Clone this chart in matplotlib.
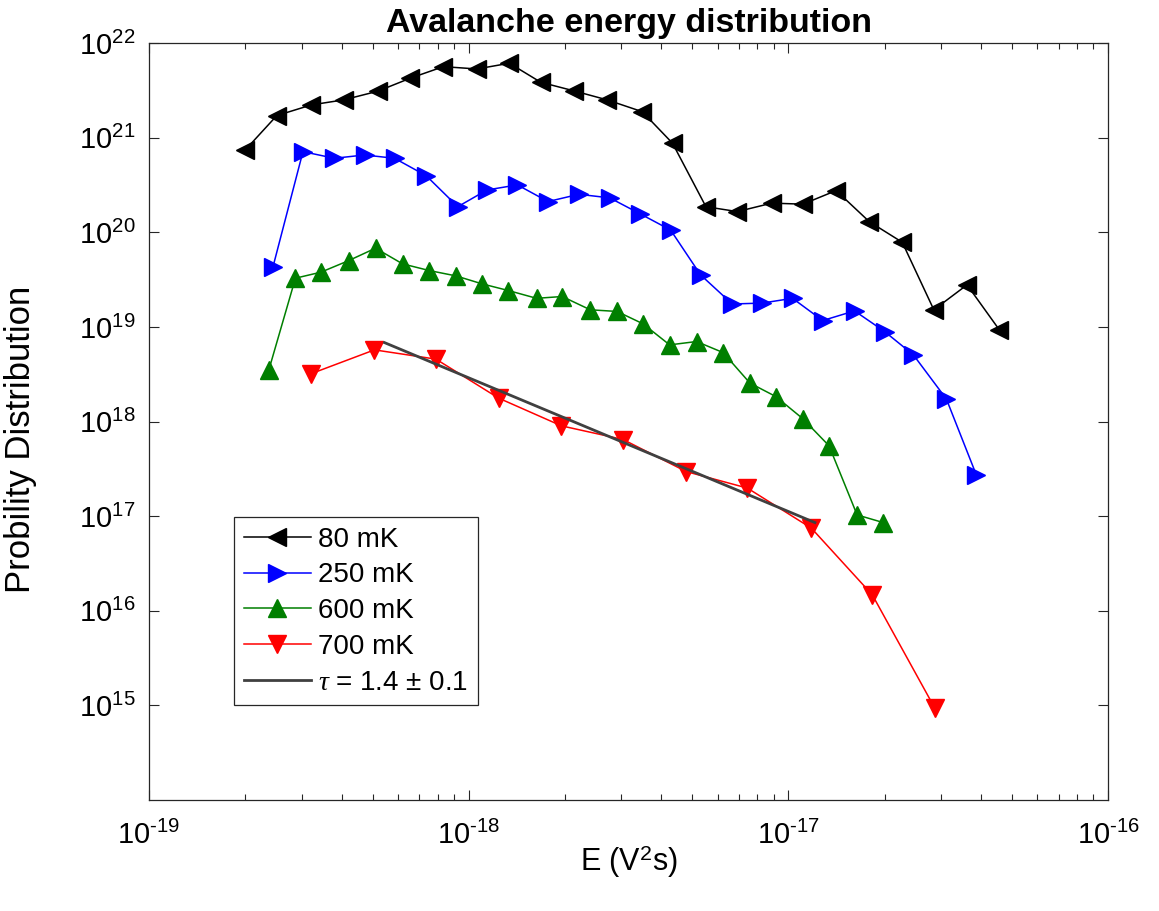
import matplotlib
matplotlib.use("Agg")
import matplotlib.pyplot as plt
import numpy as np
from matplotlib.ticker import LogLocator, NullLocator, FuncFormatter

plt.rcParams['font.family'] = ['Liberation Sans', 'DejaVu Sans']
plt.rcParams['mathtext.fontset'] = 'custom'
plt.rcParams['mathtext.rm'] = 'Liberation Sans'
plt.rcParams['mathtext.it'] = 'Liberation Serif:italic'

# 80 mK
x80 = [2.00e-19, 2.51e-19, 3.22e-19, 4.06e-19, 5.19e-19, 6.56e-19, 8.33e-19, 1.06e-18,
       1.34e-18, 1.68e-18, 2.14e-18, 2.71e-18, 3.49e-18, 4.34e-18, 5.52e-18, 6.92e-18,
       8.87e-18, 1.11e-17, 1.41e-17, 1.79e-17, 2.27e-17, 2.85e-17, 3.62e-17, 4.57e-17]
y80 = [7.45e20, 1.72e21, 2.23e21, 2.52e21, 3.11e21, 4.27e21, 5.66e21, 5.35e21,
       6.15e21, 3.87e21, 3.13e21, 2.52e21, 1.89e21, 8.77e20, 1.87e20, 1.66e20,
       2.04e20, 1.99e20, 2.77e20, 1.30e20, 7.87e19, 1.52e19, 2.79e19, 9.31e18]

# 250 mK
x250 = [2.44e-19, 3.03e-19, 3.80e-19, 4.72e-19, 5.86e-19, 7.36e-19, 9.24e-19, 1.14e-18,
        1.42e-18, 1.77e-18, 2.21e-18, 2.76e-18, 3.44e-18, 4.28e-18, 5.31e-18, 6.67e-18,
        8.28e-18, 1.03e-17, 1.28e-17, 1.61e-17, 2.00e-17, 2.46e-17, 3.12e-17, 3.87e-17]
y250 = [4.29e19, 7.15e20, 6.08e20, 6.59e20, 6.08e20, 3.98e20, 1.87e20, 2.81e20,
        3.18e20, 2.12e20, 2.53e20, 2.32e20, 1.57e20, 1.06e20, 3.56e19, 1.75e19,
        1.79e19, 2.01e19, 1.17e19, 1.48e19, 8.94e18, 5.07e18, 1.73e18, 2.73e17]

# 600 mK
x600 = [2.37e-19, 2.87e-19, 3.45e-19, 4.21e-19, 5.11e-19, 6.21e-19, 7.53e-19, 9.12e-19,
        1.10e-18, 1.33e-18, 1.63e-18, 1.96e-18, 2.40e-18, 2.91e-18, 3.51e-18, 4.25e-18,
        5.16e-18, 6.25e-18, 7.58e-18, 9.13e-18, 1.11e-17, 1.34e-17, 1.64e-17, 1.98e-17]
y600 = [3.52e18, 3.28e19, 3.80e19, 5.03e19, 6.81e19, 4.65e19, 3.95e19, 3.47e19,
        2.86e19, 2.43e19, 2.01e19, 2.10e19, 1.52e19, 1.46e19, 1.08e19, 6.47e18,
        7.02e18, 5.36e18, 2.55e18, 1.84e18, 1.07e18, 5.54e17, 1.03e17, 8.55e16]

# 700 mK
x700 = [3.20e-19, 5.07e-19, 7.90e-19, 1.24e-18, 1.95e-18, 3.04e-18, 4.79e-18, 7.44e-18,
        1.18e-17, 1.83e-17, 2.87e-17]
y700 = [3.19e18, 5.73e18, 4.57e18, 1.77e18, 9.01e17, 6.46e17, 2.96e17, 1.98e17,
        7.46e16, 1.47e16, 9.33e14]

# power-law fit, tau = 1.4
fit_x = [5.45e-19, 1.21e-17]
fit_y = [6.84e18, 8.55e16]

fig = plt.figure(figsize=(11.59, 9.11), dpi=100)
ax = fig.add_axes([0.1286, 0.122, 0.8275, 0.8305])

ms = 13
ax.plot(x80, y80, '-', color='black', lw=1.1, marker='<', ms=ms, label='80 mK')
ax.plot(x250, y250, '-', color='blue', lw=1.1, marker='>', ms=ms, label='250 mK')
ax.plot(x600, y600, '-', color='#007f00', lw=1.1, marker='^', ms=ms, label='600 mK')
ax.plot(x700, y700, '-', color='red', lw=1.1, marker='v', ms=ms, label='700 mK')
ax.plot(fit_x, fit_y, '-', color='#404040', lw=2, label=r'$\tau$ = 1.4 ± 0.1')

ax.set_xscale('log')
ax.set_yscale('log')
ax.set_xlim(1e-19, 1e-16)
ax.set_ylim(1e14, 1e22)
ax.set_xticks([1e-19, 1e-18, 1e-17, 1e-16])
ax.set_yticks([1e15, 1e16, 1e17, 1e18, 1e19, 1e20, 1e21, 1e22])
ax.xaxis.set_minor_locator(LogLocator(base=10, subs=range(2, 10), numticks=20))
ax.yaxis.set_minor_locator(NullLocator())


def pow10(v, pos):
    e = int(round(np.log10(v)))
    return r'$\mathregular{10^{\text{%d}}}$' % e


ax.xaxis.set_major_formatter(FuncFormatter(pow10))
ax.yaxis.set_major_formatter(FuncFormatter(pow10))

ax.tick_params(which='both', direction='in', top=True, right=True, colors='#262626',
               labelcolor='black', labelsize=21, width=0.8)
ax.tick_params(which='major', length=7)
ax.tick_params(axis='x', which='major', pad=15)
ax.tick_params(axis='y', which='major', pad=10)
ax.tick_params(which='minor', length=4)
for s in ax.spines.values():
    s.set_color('#262626')
    s.set_linewidth(0.9)

ax.set_xlabel(r'E (V$^2$s)', fontsize=22, labelpad=-5)
ax.set_ylabel('Probility Distribution', fontsize=25)
ax.yaxis.set_label_coords(-0.117, 0.477)
ax.set_title('Avalanche energy distribution', fontsize=24.5, fontweight='bold', pad=8)

leg = ax.legend(loc='lower left', bbox_to_anchor=(0.089, 0.125), fontsize=20,
                fancybox=False, edgecolor='#262626', framealpha=1, numpoints=1,
                handlelength=2.4, handletextpad=0.25, labelspacing=0.35,
                borderaxespad=0, borderpad=0.35)
leg.get_frame().set_linewidth(0.9)

fig.savefig('out.png', dpi=100)
